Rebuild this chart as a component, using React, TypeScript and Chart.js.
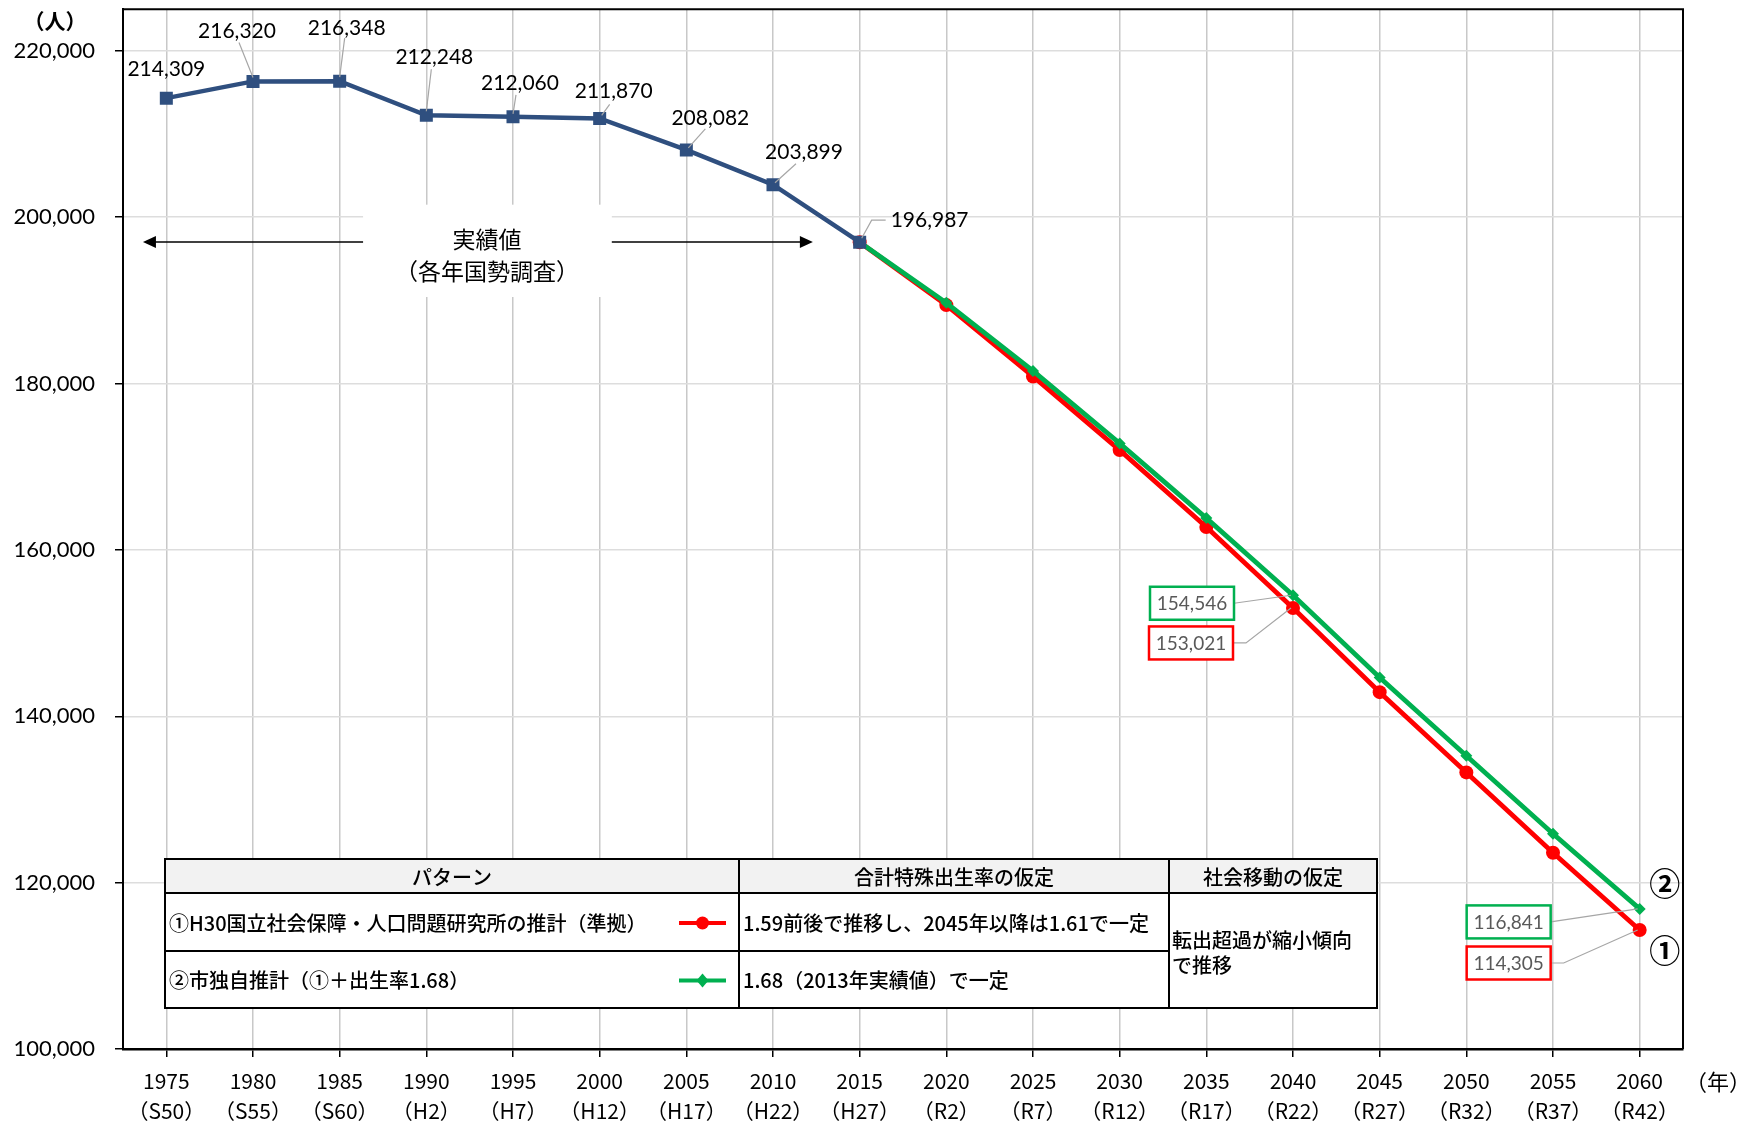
import React, { useEffect, useRef } from "react";
import { Chart, registerables } from "chart.js";

Chart.register(...registerables);

// ---- data ----
const YEARS = ["1975", "1980", "1985", "1990", "1995", "2000", "2005", "2010", "2015", "2020", "2025", "2030", "2035", "2040", "2045", "2050", "2055", "2060"];
const ERAS = ["（S50）", "（S55）", "（S60）", "（H2）", "（H7）", "（H12）", "（H17）", "（H22）", "（H27）", "（R2）", "（R7）", "（R12）", "（R17）", "（R22）", "（R27）", "（R32）", "（R37）", "（R42）"];
const ACTUAL = [214309, 216320, 216348, 212248, 212060, 211870, 208082, 203899, 196987, null, null, null, null, null, null, null, null, null];
const PATTERN1 = [null, null, null, null, null, null, null, null, 196987, 189430, 180850, 172000, 162750, 153021, 142900, 133250, 123600, 114305];
const PATTERN2 = [null, null, null, null, null, null, null, null, 196987, 189700, 181520, 172800, 163820, 154546, 144650, 135260, 125880, 116841];
const Y_TICKS = [100000, 120000, 140000, 160000, 180000, 200000, 220000];
const Y_MIN = 100000;
const Y_MAX = 225000;
const HIGHLIGHT_INDEXES = [13, 17];

const SERIES_NAMES = ["実績値", "①H30国立社会保障・人口問題研究所の推計（準拠）", "②市独自推計（①＋出生率1.68）"];
const TABLE_HEAD = ["パターン", "合計特殊出生率の仮定", "社会移動の仮定"];
const TABLE_FERTILITY = ["1.59前後で推移し、2045年以降は1.61で一定", "1.68（2013年実績値）で一定"];
const TABLE_MIGRATION = ["転出超過が縮小傾向", "で推移"];
const ACTUAL_TITLE = ["実績値", "（各年国勢調査）"];
const Y_UNIT = "（人）";
const X_UNIT = "（年）";
const CIRCLED = ["①", "②"];

// ---- styles ----
const NAVY = "#2F4F7F";
const RED = "#FF0000";
const GREEN = "#00B050";
const GRID_X = "#C8C8C8";
const GRID_Y = "#DDDDDD";
const LEADER = "#A6A6A6";
const NUM = "Lato, 'Noto Sans CJK JP', sans-serif";
const JP = "'Noto Sans CJK JP', sans-serif";

// text offset (dx, dy) from point, leader path points relative to point
const ACTUAL_LABEL_STYLE = [
  { t: [0, -29], l: null, align: "center" },
  { t: [-16, -50], l: [[-14, -39], [0, -4]], align: "center" },
  { t: [7, -53], l: [[5, -43], [0, -4]], align: "center" },
  { t: [8, -58], l: [[5, -46], [0, -4]], align: "center" },
  { t: [7, -34], l: [[3, -22], [0, -3]], align: "center" },
  { t: [14, -27], l: [[10, -14], [2, -3]], align: "center" },
  { t: [24, -32], l: [[19, -21], [2, -2]], align: "center" },
  { t: [31, -32], l: [[23, -21], [2, -2]], align: "center" },
  { t: [31, -22], l: [[26, -22], [12, -22], [2, -4]], align: "left" },
];

// box center offsets from point for highlighted values: [green, red]
const BOX_STYLE: Record<number, { g: number[]; r: number[] }> = {
  13: { g: [-101, 8], r: [-102, 35] },
  17: { g: [-131, 13], r: [-131, 33] },
};

const fmt = (v: number) => v.toLocaleString("en-US");

function drawArrow(ctx: CanvasRenderingContext2D, x1: number, y1: number, x2: number, y2: number) {
  const dir = Math.sign(x2 - x1);
  ctx.strokeStyle = "#000";
  ctx.fillStyle = "#000";
  ctx.lineWidth = 1.5;
  ctx.beginPath();
  ctx.moveTo(x1, y1);
  ctx.lineTo(x2 - dir * 10, y2);
  ctx.stroke();
  ctx.beginPath();
  ctx.moveTo(x2, y2);
  ctx.lineTo(x2 - dir * 13, y2 - 6);
  ctx.lineTo(x2 - dir * 13, y2 + 6);
  ctx.closePath();
  ctx.fill();
}

const overlayPlugin = {
  id: "overlay",
  beforeDatasetsDraw(chart: any) {
    const { ctx, scales } = chart;
    const x = scales.x;
    const y = scales.y;
    const step = x.getPixelForValue(1) - x.getPixelForValue(0);
    const xAt = (i: number) => x.getPixelForValue(0) + step * i;
    ctx.save();
    const bx1 = xAt(2.27);
    const bx2 = xAt(5.14);
    const by1 = y.getPixelForValue(201500);
    const by2 = y.getPixelForValue(190400);
    ctx.fillStyle = "#fff";
    ctx.fillRect(bx1, by1, bx2 - bx1, by2 - by1);
    const ay = y.getPixelForValue(197000);
    drawArrow(ctx, bx1, ay, xAt(-0.27), ay);
    drawArrow(ctx, bx2, ay, xAt(7.46), ay);
    ctx.fillStyle = "#000";
    ctx.textAlign = "center";
    ctx.textBaseline = "middle";
    ctx.font = `23px ${JP}`;
    ctx.fillText(ACTUAL_TITLE[0], xAt(3.7), y.getPixelForValue(197300));
    ctx.fillText(ACTUAL_TITLE[1], xAt(3.7), y.getPixelForValue(193500));
    ctx.restore();
  },
  afterDraw(chart: any) {
    const { ctx, chartArea } = chart;
    ctx.save();
    // top & right border
    ctx.strokeStyle = "#000";
    ctx.lineWidth = 2;
    ctx.beginPath();
    ctx.moveTo(chartArea.left, chartArea.top);
    ctx.lineTo(chartArea.right, chartArea.top);
    ctx.lineTo(chartArea.right, chartArea.bottom);
    ctx.stroke();

    // unit labels
    ctx.fillStyle = "#000";
    ctx.textAlign = "center";
    ctx.textBaseline = "middle";
    ctx.font = `bold 21px ${JP}`;
    ctx.fillText(Y_UNIT, 55, 21);
    ctx.font = `22px ${JP}`;
    ctx.fillText(X_UNIT, chartArea.right + 35, chartArea.bottom + 33);

    // actual labels
    const meta0 = chart.getDatasetMeta(0);
    ACTUAL.forEach((v, i) => {
      if (v == null) return;
      const p = meta0.data[i];
      const st = ACTUAL_LABEL_STYLE[i];
      if (st.l) {
        ctx.strokeStyle = LEADER;
        ctx.lineWidth = 1.2;
        ctx.beginPath();
        st.l.forEach((q, k) => {
          if (k === 0) ctx.moveTo(p.x + q[0], p.y + q[1]);
          else ctx.lineTo(p.x + q[0], p.y + q[1]);
        });
        ctx.stroke();
      }
      ctx.fillStyle = "#000";
      ctx.font = `21px ${NUM}`;
      ctx.textAlign = st.align;
      ctx.textBaseline = "middle";
      ctx.fillText(fmt(v), p.x + st.t[0], p.y + st.t[1]);
    });

    // highlight boxes
    const metaG = chart.getDatasetMeta(1);
    const metaR = chart.getDatasetMeta(2);
    const bw = 84;
    const bh = 33;
    HIGHLIGHT_INDEXES.forEach((i) => {
      const st = BOX_STYLE[i];
      const items = [
        { p: metaG.data[i], v: PATTERN2[i] as number, c: GREEN, o: st.g, elbow: false },
        { p: metaR.data[i], v: PATTERN1[i] as number, c: RED, o: st.r, elbow: true },
      ];
      items.forEach((it) => {
        const cx = it.p.x + it.o[0];
        const cy = it.p.y + it.o[1];
        ctx.strokeStyle = LEADER;
        ctx.lineWidth = 1.2;
        ctx.beginPath();
        ctx.moveTo(cx + bw / 2, cy);
        if (it.elbow) ctx.lineTo(cx + bw / 2 + 13, cy);
        ctx.lineTo(it.p.x - 2, it.p.y);
        ctx.stroke();
        ctx.fillStyle = "#fff";
        ctx.fillRect(cx - bw / 2, cy - bh / 2, bw, bh);
        ctx.strokeStyle = it.c;
        ctx.lineWidth = 2.5;
        ctx.strokeRect(cx - bw / 2, cy - bh / 2, bw, bh);
        ctx.fillStyle = "#595959";
        ctx.font = `19px ${NUM}`;
        ctx.textAlign = "center";
        ctx.textBaseline = "middle";
        ctx.fillText(fmt(it.v), cx, cy + 1);
      });
    });

    // circled numbers at the end
    const last = YEARS.length - 1;
    ctx.fillStyle = "#000";
    ctx.font = `bold 31px ${JP}`;
    ctx.textAlign = "center";
    ctx.textBaseline = "middle";
    ctx.fillText(CIRCLED[1], metaG.data[last].x + 25, metaG.data[last].y - 26);
    ctx.fillText(CIRCLED[0], metaR.data[last].x + 25, metaR.data[last].y + 20);

    // table
    const colX = [165, 739, 1169, 1377];
    const rowY = [859, 893, 951, 1008];
    ctx.fillStyle = "#fff";
    ctx.fillRect(colX[0], rowY[0], colX[3] - colX[0], rowY[3] - rowY[0]);
    ctx.fillStyle = "#F2F2F2";
    ctx.fillRect(colX[0], rowY[0], colX[3] - colX[0], rowY[1] - rowY[0]);
    ctx.strokeStyle = "#000";
    ctx.lineWidth = 2;
    ctx.strokeRect(colX[0], rowY[0], colX[3] - colX[0], rowY[3] - rowY[0]);
    ctx.beginPath();
    ctx.moveTo(colX[0], rowY[1]);
    ctx.lineTo(colX[3], rowY[1]);
    ctx.moveTo(colX[0], rowY[2]);
    ctx.lineTo(colX[2], rowY[2]);
    ctx.moveTo(colX[1], rowY[0]);
    ctx.lineTo(colX[1], rowY[3]);
    ctx.moveTo(colX[2], rowY[0]);
    ctx.lineTo(colX[2], rowY[3]);
    ctx.stroke();

    ctx.fillStyle = "#000";
    ctx.font = `500 20px ${JP}`;
    ctx.textBaseline = "middle";
    ctx.textAlign = "center";
    const hy = (rowY[0] + rowY[1]) / 2 + 1;
    TABLE_HEAD.forEach((t, k) => ctx.fillText(t, (colX[k] + colX[k + 1]) / 2, hy));
    ctx.textAlign = "left";
    const r1 = (rowY[1] + rowY[2]) / 2 + 1;
    const r2 = (rowY[2] + rowY[3]) / 2 + 1;
    ctx.fillText(SERIES_NAMES[1], colX[0] + 4, r1);
    ctx.fillText(SERIES_NAMES[2], colX[0] + 4, r2);
    ctx.fillText(TABLE_FERTILITY[0], colX[1] + 4, r1);
    ctx.fillText(TABLE_FERTILITY[1], colX[1] + 4, r2);
    ctx.fillText(TABLE_MIGRATION[0], colX[2] + 3, 940);
    ctx.fillText(TABLE_MIGRATION[1], colX[2] + 3, 965);

    // legend markers
    const lx1 = 679;
    const lx2 = 726;
    const lc = (lx1 + lx2) / 2;
    ctx.lineWidth = 4;
    ctx.strokeStyle = RED;
    ctx.beginPath();
    ctx.moveTo(lx1, r1);
    ctx.lineTo(lx2, r1);
    ctx.stroke();
    ctx.fillStyle = RED;
    ctx.beginPath();
    ctx.arc(lc, r1, 6.5, 0, Math.PI * 2);
    ctx.fill();
    ctx.strokeStyle = GREEN;
    ctx.beginPath();
    ctx.moveTo(lx1, r2);
    ctx.lineTo(lx2, r2);
    ctx.stroke();
    ctx.fillStyle = GREEN;
    ctx.beginPath();
    ctx.moveTo(lc, r2 - 7);
    ctx.lineTo(lc + 6, r2);
    ctx.lineTo(lc, r2 + 7);
    ctx.lineTo(lc - 6, r2);
    ctx.closePath();
    ctx.fill();

    ctx.restore();
  },
};

export default function App() {
  const ref = useRef<HTMLCanvasElement | null>(null);

  useEffect(() => {
    if (!ref.current) return;
    const chart = new Chart(ref.current, {
      type: "line",
      data: {
        labels: YEARS.map((yr, i) => [yr, ERAS[i]]),
        datasets: [
          {
            label: SERIES_NAMES[0],
            data: ACTUAL,
            borderColor: NAVY,
            backgroundColor: NAVY,
            borderWidth: 4.5,
            pointStyle: "rect",
            pointRadius: 9.2,
            pointBorderWidth: 0,
            spanGaps: false,
          },
          {
            label: SERIES_NAMES[2],
            data: PATTERN2,
            borderColor: GREEN,
            backgroundColor: GREEN,
            borderWidth: 4.8,
            pointStyle: "rectRot",
            pointRadius: 6,
            pointBorderWidth: 0,
            spanGaps: false,
          },
          {
            label: SERIES_NAMES[1],
            data: PATTERN1,
            borderColor: RED,
            backgroundColor: RED,
            borderWidth: 4.8,
            pointStyle: "circle",
            pointRadius: 7,
            pointBorderWidth: 0,
            spanGaps: false,
          },
        ],
      },
      options: {
        responsive: false,
        animation: false,
        layout: { padding: { top: 9, right: 68, left: 0, bottom: 0 } },
        plugins: {
          legend: { display: false },
          tooltip: { enabled: false },
        },
        scales: {
          x: {
            type: "category",
            offset: true,
            grid: { color: GRID_X, lineWidth: 1.5, tickColor: "#000", tickLength: 8, offset: false },
            border: { color: "#000", width: 2.5 },
            ticks: {
              color: "#000",
              font: { family: JP, size: 21, lineHeight: 1.43 },
              padding: 9,
              maxRotation: 0,
              autoSkip: false,
            },
            afterFit: (s: any) => {
              s.height = 78;
              s.paddingLeft = 0;
              s.paddingRight = 0;
            },
          },
          y: {
            min: Y_MIN,
            max: Y_MAX,
            afterBuildTicks: (s: any) => {
              s.ticks = Y_TICKS.map((v) => ({ value: v }));
            },
            grid: { color: GRID_Y, lineWidth: 1.5, tickColor: "#000", tickLength: 8 },
            border: { color: "#000", width: 2 },
            ticks: {
              color: "#000",
              font: { family: NUM, size: 22 },
              padding: 20,
              callback: (v: any) => fmt(Number(v)),
            },
            afterFit: (s: any) => {
              s.width = 123;
              s.paddingTop = 0;
              s.paddingBottom = 0;
            },
          },
        },
      },
      plugins: [overlayPlugin],
    } as any);
    return () => chart.destroy();
  }, []);

  return (
    <div style={{ position: "absolute", left: 0, top: 0, width: 1751, height: 1127, background: "#fff" }}>
      <canvas ref={ref} width={1751} height={1127} style={{ display: "block" }} />
    </div>
  );
}
